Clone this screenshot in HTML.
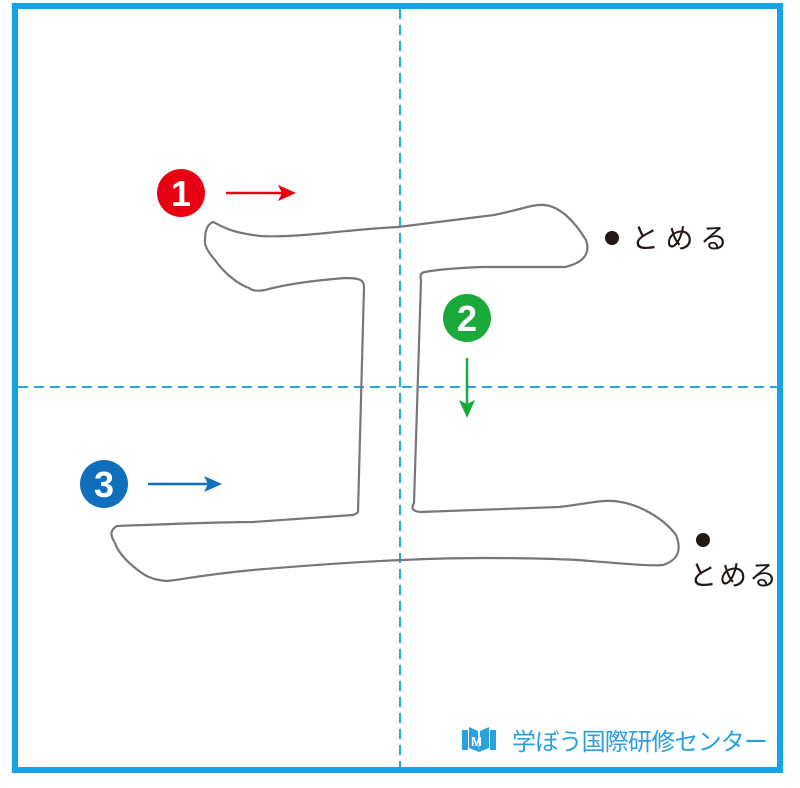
<!DOCTYPE html>
<html><head><meta charset="utf-8"><style>
html,body{margin:0;padding:0;background:#fff;}
svg{display:block}
</style></head><body>
<svg width="800" height="788" viewBox="0 0 800 788" xmlns="http://www.w3.org/2000/svg">
<rect width="800" height="788" fill="#fff"/>
<rect x="15" y="6" width="765" height="764" fill="none" stroke="#16a0e6" stroke-width="6"/>
<line x1="400" y1="9" x2="400" y2="767" stroke="#26a4e6" stroke-width="2" stroke-dasharray="10,6"/>
<line x1="18" y1="387" x2="777" y2="387" stroke="#26a4e6" stroke-width="2" stroke-dasharray="10,6"/>
<path d="M213,222 C222,226 228,232 260,236 C300,238 340,230 398,227 C440,222 470,218 494,215 C520,210 532,204 544,205 C560,206 575,222 586,240 C590,252 586,262 565,267 L483,267 C455,268 435,270 425,272 C420,273 420,276 421,280 L414,503 C411,508 412,511 420,512 L559,507 C585,504 600,500 613,501 C640,503 665,520 676,535 C682,550 678,560 663,565 C650,566 640,565 578,560 C540,558 500,558 483,558 C400,558 300,566 253,570 C200,575 180,580 167,581 C150,580 142,573 142,573 C130,565 118,553 115,543 C110,535 110,530 117,526 C170,524 220,522 253,522 C300,519 340,516 353,515 C358,513 358,512 358,512 L364,287 C364,280 360,278 345,278 C320,280 290,283 265,290 C255,292 250,289 249,288 C235,283 222,270 215,260 C208,252 204,245 205,240 C205,230 208,224 213,222 Z" fill="none" stroke="#777" stroke-width="2.2"/>
<circle cx="181" cy="193" r="24" fill="#e60012"/>
<text x="181" y="206" font-family="Liberation Sans, sans-serif" font-weight="bold" font-size="36" fill="#fff" text-anchor="middle">1</text>
<line x1="226" y1="193" x2="284" y2="193" stroke="#e60012" stroke-width="2.5"/>
<polygon points="296,193 278,185 282,193 278,201" fill="#e60012"/>
<circle cx="467" cy="318" r="24" fill="#1aaa3c"/>
<text x="467" y="331" font-family="Liberation Sans, sans-serif" font-weight="bold" font-size="36" fill="#fff" text-anchor="middle">2</text>
<line x1="467" y1="358" x2="467" y2="406" stroke="#1aaa3c" stroke-width="2.5"/>
<polygon points="467,418 459,400 467,404 475,400" fill="#1aaa3c"/>
<circle cx="104" cy="484" r="24" fill="#0e6fbd"/>
<text x="104" y="497" font-family="Liberation Sans, sans-serif" font-weight="bold" font-size="36" fill="#fff" text-anchor="middle">3</text>
<line x1="148" y1="484" x2="210" y2="484" stroke="#0e6fbd" stroke-width="2.5"/>
<polygon points="222,484 204,476 208,484 204,492" fill="#0e6fbd"/>
<circle cx="612" cy="238" r="7" fill="#231815"/>
<text x="631" y="248" font-family="Liberation Sans, 'Noto Sans CJK JP', sans-serif" font-size="28" fill="#231815" textLength="97">とめる</text>
<circle cx="703" cy="540" r="7" fill="#231815"/>
<text x="689" y="585" font-family="Liberation Sans, 'Noto Sans CJK JP', sans-serif" font-size="28" fill="#231815" textLength="88">とめる</text>
<g fill="#29a0e0">
<rect x="462" y="730" width="6" height="20"/>
<rect x="490" y="730" width="6" height="20"/>
<path d="M469,727 L478,731 L479,752 L469,748 Z"/>
<path d="M489,727 L480,731 L479,752 L489,748 Z"/>
</g>
<text x="471" y="746" font-family="Liberation Sans, sans-serif" font-weight="bold" font-size="13" fill="#fff">M</text>
<text x="512" y="750" font-family="Liberation Sans, 'Noto Sans CJK JP', sans-serif" font-size="24" fill="#29a0e0" textLength="256">学ぼう国際研修センター</text>
</svg>
</body></html>
